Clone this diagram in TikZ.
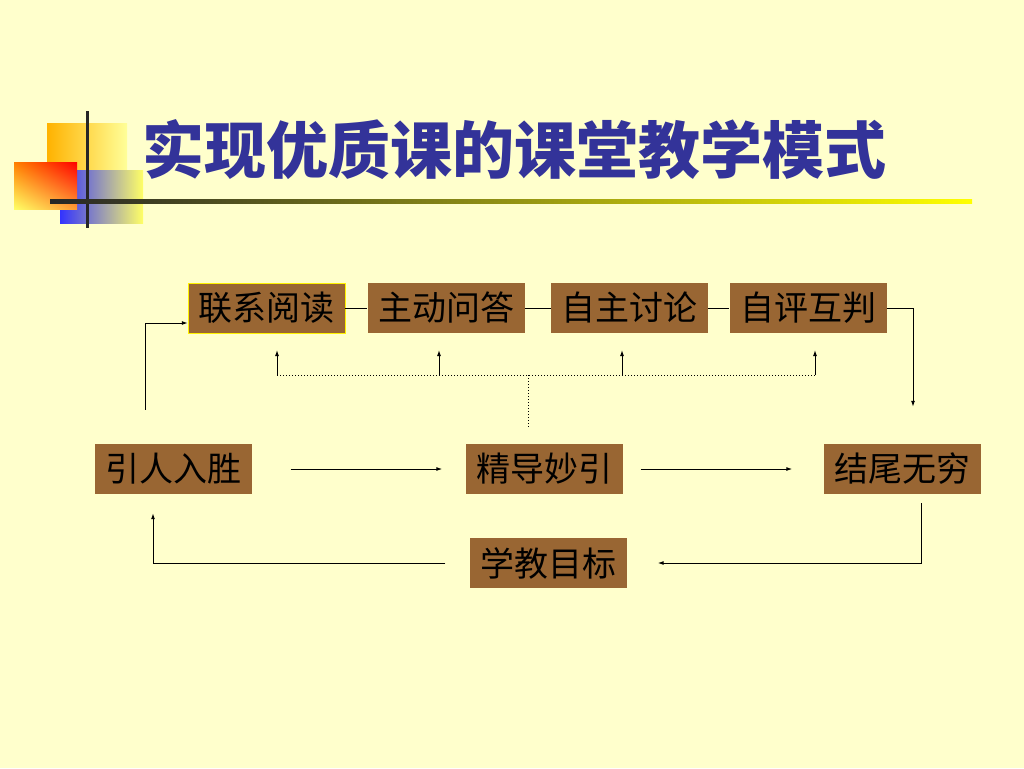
\documentclass[tikz,border=0pt]{standalone}
\usepackage{fontspec}
\newfontfamily\cjk{Noto Sans CJK SC}
\usepackage{tikz}
\usetikzlibrary{arrows,arrows.meta,backgrounds,positioning,calc,shadings}
\definecolor{slidebg}{HTML}{FFFFCC}
\definecolor{boxbrown}{HTML}{996633}
\definecolor{titleblue}{HTML}{333399}
\tikzstyle{stage}=[fill=boxbrown, minimum width=157pt, minimum height=50pt, inner sep=0pt, font=\cjk\fontsize{34}{34}\selectfont]
\tikzstyle{link}=[line width=1pt, black, -{Latex[length=6pt, width=4pt]}]
\tikzstyle{bar}=[line width=1pt, black]
\tikzstyle{hint}=[line width=1pt, black, dotted]

\begin{document}
\begin{tikzpicture}[x=1pt, y=-1pt]
        %
        \useasboundingbox (0,0) rectangle (1024,768);
        \fill[slidebg] (0,0) rectangle (1024,768);
        % corner squares
        \shade[left color=orange!60!yellow, right color=yellow!40] (47,123) rectangle (127,200);
        \shade[left color=blue!80!white, right color=yellow!60] (60,170) rectangle (143,223);
        \shade[upper left=orange, upper right=red, lower left=yellow!60, lower right=orange!80] (14,162) rectangle (77,209);
        \draw[line width=3pt, black!85] (87,111) -- (87,228);
        \shade[left color=black!85, right color=yellow] (50,199) rectangle (972,203);
        \node at (514,150) (title) {\cjk\bfseries\fontsize{62}{62}\selectfont\color{titleblue}实现优质课的课堂教学模式};
        %
        \node at (266.5,308) [stage, draw=yellow, thin] (lx) {联系阅读};
        \node at (446,308) [stage] (zd) {主动问答};
        \node at (629.5,308) [stage] (zz) {自主讨论};
        \node at (808,308) [stage] (zp) {自评互判};
        \node at (173,469) [stage] (yr) {引人入胜};
        \node at (544,469) [stage] (jd) {精导妙引};
        \node at (902,469) [stage] (jw) {结尾无穷};
        \node at (548,563) [stage] (xm) {学教目标};
        %
        \draw[bar] (lx) -- (zd);
        \draw[bar] (zd) -- (zz);
        \draw[bar] (zz) -- (zp);
        \draw[link] (zp.east) -| ([xshift=11pt, yshift=37pt]jw.north);
        \draw[link] ([xshift=-28pt, yshift=34pt]yr.north) |- ([yshift=-15pt]lx.west);
        %
        \coordinate (bl) at (277,375);
        \coordinate (br) at (815,375);
        \draw[hint] (bl) -- (br);
        \draw[hint] ([xshift=-16pt, yshift=17pt]jd.north) -- (528,375);
        \foreach \x in {277,439,622,815}
          \draw[link] (\x,375) -- (\x,350);
        %
        \draw[link, shorten <=39pt, shorten >=23pt] (yr) -- (jd);
        \draw[link, shorten <=18pt, shorten >=31pt] (jd) -- (jw);
        \draw[link] ([xshift=19pt, yshift=-9pt]jw.south) |- ([xshift=31pt]xm.east);
        \draw[link] ([xshift=-24pt]xm.west) -| ([xshift=-20pt, yshift=-19pt]yr.south);
      %
    \end{tikzpicture}
\end{document}
